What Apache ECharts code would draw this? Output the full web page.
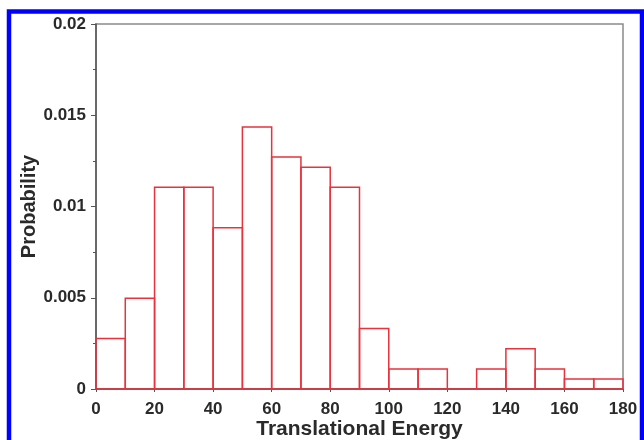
<!DOCTYPE html>
<html>
<head>
<meta charset="utf-8">
<script src="https://cdn.jsdelivr.net/npm/echarts@6/dist/echarts.min.js"></script>
<style>
  html, body { margin: 0; padding: 0; background: #fff; }
  #chart1 { width: 644px; height: 440px; }
</style>
</head>
<body>
<div id="chart1"></div>
<script>
// bin edges and probabilities
var binStart = [0, 10, 20, 30, 40, 50, 60, 70, 80, 90, 100, 110, 120, 130, 140, 150, 160, 170];
var binWidth = 10;
var probs = [0.00277, 0.00497, 0.01105, 0.01105, 0.00884, 0.01436, 0.01271, 0.01215, 0.01105,
             0.00331, 0.0011, 0.0011, 0, 0.0011, 0.00221, 0.0011, 0.00055, 0.00055];
var yTicks = [0, 0.005, 0.01, 0.015, 0.02];
var xTicks = [0, 20, 40, 60, 80, 100, 120, 140, 160, 180];

var bars = binStart.map(function (s, i) { return [s, s + binWidth, probs[i]]; });

var font = '"Liberation Sans", Arial, sans-serif';
var textColor = '#2a2a2a';

var option = {
    backgroundColor: '#fff',
    animation: false,
    grid: {
        left: 96,
        right: 21,
        top: 24,
        bottom: 51,
        containLabel: false,
        outerBoundsMode: 'none', // 不让标签挤压绘图区
        show: true,
        borderColor: '#8a8a8a', // 上、右边框
        borderWidth: 1.5,
        backgroundColor: '#fff'
    },
    graphic: [{
        type: 'rect',
        shape: { x: 9, y: 11.5, width: 633, height: 500 },
        style: { fill: 'none', stroke: '#0000ff', lineWidth: 4.5 },
        silent: true,
        z: 100
    }],
    xAxis: {
        type: 'value',
        min: xTicks[0],
        max: xTicks[xTicks.length - 1],
        interval: 20,
        name: 'Translational Energy',
        nameLocation: 'middle',
        nameGap: 30,
        nameMoveOverlap: false,
        nameTextStyle: { fontFamily: font, fontWeight: 'bold', fontSize: 21, color: textColor },
        axisLine: { show: true, onZero: false, lineStyle: { color: '#555', width: 1.5 } },
        axisTick: { show: true, length: 3, lineStyle: { color: '#555' } },
        axisLabel: { fontFamily: font, fontWeight: 'bold', fontSize: 17, color: textColor, margin: 12 },
        splitLine: { show: false }
    },
    yAxis: {
        type: 'value',
        min: yTicks[0],
        max: yTicks[yTicks.length - 1],
        interval: 0.005,
        name: 'Probability',
        nameLocation: 'middle',
        nameGap: 57,
        nameMoveOverlap: false,
        nameTextStyle: { fontFamily: font, fontWeight: 'bold', fontSize: 20, color: textColor },
        axisLine: { show: true, lineStyle: { color: '#555', width: 1.5 } },
        axisTick: { show: true, length: 5, lineStyle: { color: '#555' } },
        minorTick: { show: true, splitNumber: 2, length: 3, lineStyle: { color: '#555' } },
        axisLabel: {
            fontFamily: font, fontWeight: 'bold', fontSize: 17, color: textColor, margin: 10,
            formatter: function (v) { return String(parseFloat(v.toFixed(4))); }
        },
        splitLine: { show: false }
    },
    series: [{
        type: 'custom',
        data: bars,
        renderItem: function (params, api) {
            var p0 = api.coord([api.value(0), api.value(2)]);
            var p1 = api.coord([api.value(1), 0]);
            return {
                type: 'rect',
                shape: { x: p0[0], y: p0[1], width: p1[0] - p0[0], height: p1[1] - p0[1] },
                style: { fill: 'none', stroke: '#e8323c', lineWidth: 1.5 }
            };
        },
        z: 3
    }]
};

var myChart = echarts.init(document.getElementById('chart1'));
myChart.setOption(option);
</script>
</body>
</html>
